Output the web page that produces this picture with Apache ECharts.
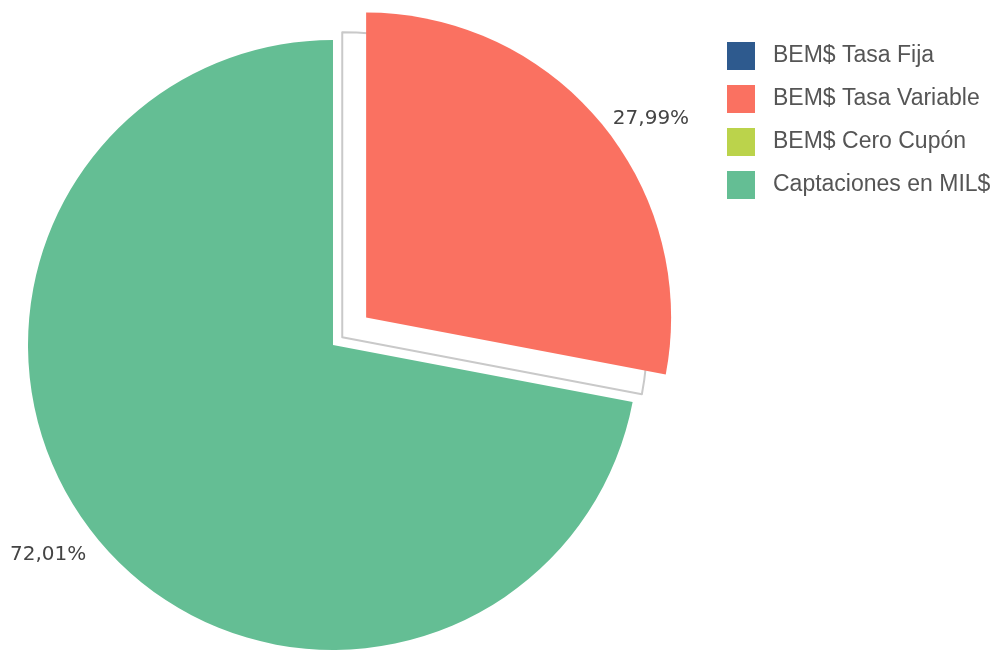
<!DOCTYPE html>
<html>
<head>
<meta charset="utf-8">
<script src="https://cdn.jsdelivr.net/npm/echarts@6/dist/echarts.min.js"></script>
<style>
html,body{margin:0;padding:0;background:#fff;}
#chart{width:1001px;height:652px;}
</style>
</head>
<body>
<div id="chart"></div>
<script>
const categories = ['BEM$ Tasa Fija', 'BEM$ Tasa Variable', 'BEM$ Cero Cupón', 'Captaciones en MIL$'];
const values = [0, 27.99, 0, 72.01];
const colors = ['#2E5A8E', '#FA7161', '#BBD34B', '#64BE94'];
const explodedName = 'BEM$ Tasa Variable';

const chart = echarts.init(document.getElementById('chart'), null, {renderer: 'canvas'});

const fmt = p => p.value > 0 ? p.percent.toFixed(2).replace('.', ',') + '%' : '';

const mainData = categories.map((name, i) => ({
  name: name,
  value: values[i],
  selected: name === explodedName,
  itemStyle: {color: colors[i]},
  label: {show: values[i] > 0}
}));

const outlineData = categories.map((name, i) => ({
  name: name,
  value: values[i],
  selected: name === explodedName,
  itemStyle: name === explodedName
    ? {color: '#ffffff', borderColor: '#c9c9c9', borderWidth: 2}
    : {color: 'rgba(0,0,0,0)', borderWidth: 0}
}));

chart.setOption({
  animation: false,
  color: colors,
  legend: {
    data: categories,
    orient: 'vertical',
    left: 727,
    top: 42,
    padding: 0,
    itemWidth: 28,
    itemHeight: 28,
    itemGap: 15,
    icon: 'rect',
    selectedMode: false,
    textStyle: {
      fontFamily: 'Liberation Sans, Arial, sans-serif',
      fontSize: 23,
      color: '#555',
      padding: [0, 0, 0, 13]
    }
  },
  series: [
    {
      type: 'pie',
      center: [333, 345],
      radius: 305,
      startAngle: 90,
      clockwise: true,
      selectedMode: 'single',
      selectedOffset: 43,
      avoidLabelOverlap: false,
      z: 2,
      itemStyle: {borderWidth: 0},
      emphasis: {disabled: true},
      label: {
        position: 'outside',
        formatter: fmt,
        fontFamily: 'DejaVu Sans, sans-serif',
        fontSize: 20,
        color: '#444',
        alignTo: 'none'
      },
      labelLine: {show: false, length: 14, length2: 4},
      labelLayout: function (p) {
        return p.labelRect.x > 333 ? {dx: -8, dy: 5} : {dx: 8, dy: 6};
      },
      data: mainData
    },
    {
      type: 'pie',
      center: [333, 345],
      radius: 305,
      startAngle: 90,
      clockwise: true,
      selectedMode: 'single',
      selectedOffset: 12,
      silent: true,
      z: 1,
      emphasis: {disabled: true},
      label: {show: false},
      labelLine: {show: false},
      data: outlineData
    }
  ]
});
</script>
</body>
</html>
